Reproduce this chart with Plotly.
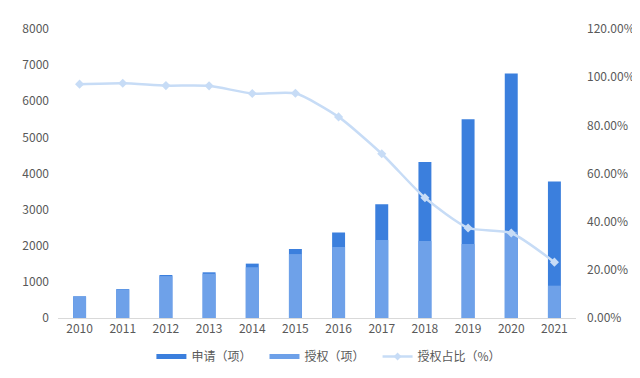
import plotly.graph_objects as go

years = ["2010", "2011", "2012", "2013", "2014", "2015", "2016", "2017", "2018", "2019", "2020", "2021"]
applications = [600, 800, 1190, 1265, 1505, 1910, 2365, 3150, 4320, 5505, 6770, 3780]
grants = [590, 790, 1160, 1225, 1405, 1770, 1965, 2160, 2130, 2050, 2390, 895]
grant_ratio = [0.971, 0.975, 0.965, 0.964, 0.932, 0.933, 0.835, 0.682, 0.499, 0.374, 0.353, 0.232]

left_ticks = [0, 1000, 2000, 3000, 4000, 5000, 6000, 7000, 8000]
right_ticks = [0, 0.2, 0.4, 0.6, 0.8, 1.0, 1.2]
right_labels = ["0.00%", "20.00%", "40.00%", "60.00%", "80.00%", "100.00%", "120.00%"]

font_family = "Noto Sans CJK SC, Noto Sans, sans-serif"
tick_color = "#595959"
dark = "#3b7fdd"
light = "#6ea1e9"
line_c = "#c7dcf6"
pad = "\u00a0\u00a0\u00a0"

fig = go.Figure()
fig.add_trace(go.Bar(x=years, y=applications, name="申请（项）", showlegend=False,
                     marker=dict(color=dark, line=dict(width=0)), width=0.3))
fig.add_trace(go.Bar(x=years, y=grants, name="授权（项）", showlegend=False,
                     marker=dict(color=light, line=dict(width=0)), width=0.3))
fig.add_trace(go.Scatter(x=years, y=grant_ratio, name="授权占比（%）", yaxis="y2",
                         mode="lines+markers", showlegend=False,
                         line=dict(color=line_c, width=2.5, shape="spline", smoothing=0.6),
                         marker=dict(symbol="diamond", size=7, color=line_c)))
# legend entries (wide swatches as in the reference)
fig.add_trace(go.Scatter(x=[None], y=[None], name="申请（项）" + pad, mode="lines",
                         line=dict(color=dark, width=5)))
fig.add_trace(go.Scatter(x=[None], y=[None], name="授权（项）" + pad, mode="lines",
                         line=dict(color=light, width=5)))
fig.add_trace(go.Scatter(x=[None], y=[None], name="授权占比（%）", mode="lines+markers",
                         line=dict(color=line_c, width=2.5),
                         marker=dict(symbol="diamond", size=6, color=line_c)))

fig.update_layout(
    width=632, height=370,
    margin=dict(l=50, r=64, t=21, b=60, autoexpand=False),
    paper_bgcolor="white", plot_bgcolor="white",
    barmode="overlay",
    font=dict(family=font_family, color=tick_color, size=12),
    showlegend=True,
    legend=dict(orientation="h", x=0.523, xanchor="center", y=-0.083, yanchor="top",
                font=dict(size=12, color="#595959"), traceorder="normal",
                itemwidth=30, tracegroupgap=0),
    xaxis=dict(range=[-0.5, 11.5], showgrid=False, showline=True, linecolor="#d9d9d9",
               linewidth=1, ticks="", tickfont=dict(size=12, color=tick_color),
               automargin=False),
    yaxis=dict(range=[0, 8000], tickvals=left_ticks, showgrid=False, zeroline=False,
               showline=False, ticks="", tickfont=dict(size=12, color=tick_color),
               ticklabelstandoff=8, automargin=False),
    yaxis2=dict(range=[0, 1.2], tickvals=right_ticks, ticktext=right_labels, overlaying="y",
                side="right", showgrid=False, zeroline=False, showline=False, ticks="",
                tickfont=dict(size=12, color=tick_color), ticklabelstandoff=10,
                automargin=False),
)

fig.write_html("out.html")
